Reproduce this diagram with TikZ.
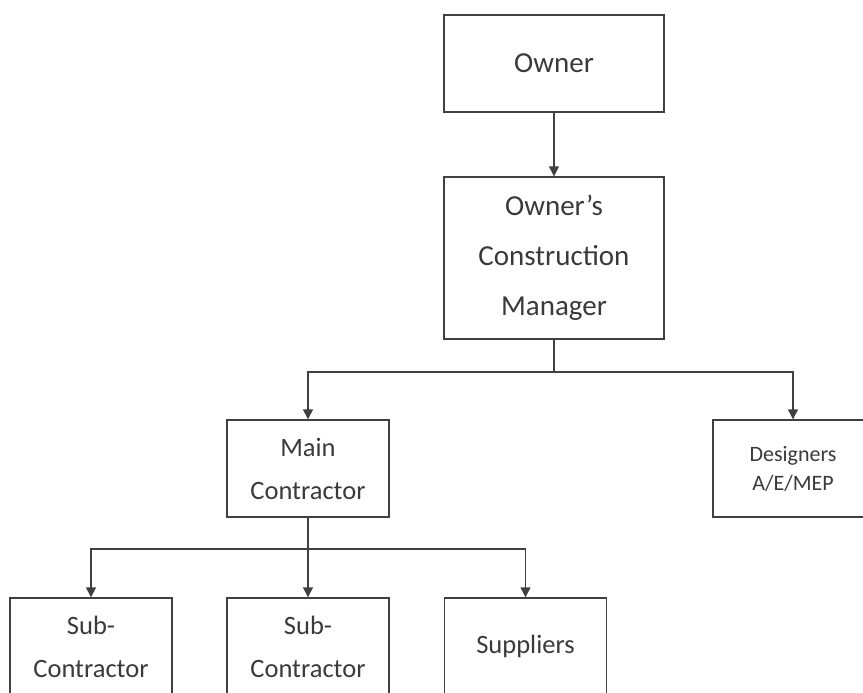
\documentclass[tikz,border=0pt]{standalone}
\usepackage{fontspec}
\setmainfont{Carlito}
\usetikzlibrary{arrows.meta}
\definecolor{linegray}{HTML}{404040}
\definecolor{textgray}{HTML}{3A3A3A}
\begin{document}
\begin{tikzpicture}[x=1pt, y=-1pt, line width=1.4pt, draw=linegray,
  every node/.style={draw=linegray, text=textgray, align=center, inner sep=0pt},
  arr/.style={-{Triangle[length=10pt, width=10pt]}}]
\useasboundingbox (0,0) rectangle (863,693);
\clip (0,0) rectangle (863,693);

\coordinate (Ow) at (554, 63.5);
\coordinate (CM) at (554, 258);
\coordinate (MC) at (308, 468.5);
\coordinate (DS) at (793, 468.5);
\coordinate (S1) at (91, 646.5);
\coordinate (S2) at (308, 646.5);
\coordinate (S3) at (525.5, 646.5);

\coordinate (top split) at (554, 372);
\coordinate (low split) at (308, 549);

\begin{scope}[every node/.append style={minimum width=220pt, font=\fontsize{29}{50}\selectfont}]
\node[minimum height=97pt] (owner) at (Ow) {Owner};
\node[minimum height=162pt] (ocm) at (CM) {Owner’s\\Construction\\Manager};
\end{scope}

\begin{scope}[every node/.append style={minimum width=162pt, minimum height=97pt, font=\fontsize{26.5}{43}\selectfont}]
\node (main) at (MC) {Main\\Contractor};
\node (sub1) at (S1) {Sub-\\Contractor};
\node (sub2) at (S2) {Sub-\\Contractor};
\node (supp) at (S3) {Suppliers};
\end{scope}

\begin{scope}[every node/.append style={minimum height=97pt, font=\fontsize{22}{29}\selectfont}]
\node[text width=160pt] (design) at (DS) {Designers\\A/E/MEP};
\end{scope}

\draw[arr] (owner) -- (ocm);
\draw (ocm) -- (top split);
\draw[arr] (top split) -| (main);
\draw[arr] (top split) -| (design);
\draw (main) -- (low split);
\draw[arr] (low split) -| (sub1);
\draw[arr] (low split) -- (sub2);
\draw[arr] (low split) -| (supp);

\end{tikzpicture}
\end{document}
